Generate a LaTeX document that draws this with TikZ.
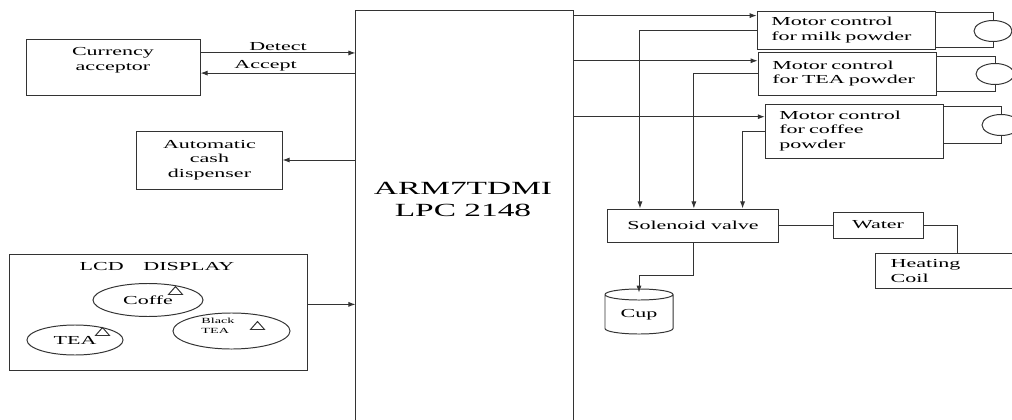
\documentclass[tikz,border=0pt]{standalone}
\usepackage{fontspec}
\setmainfont[FakeStretch=1.8]{Liberation Serif}
\usetikzlibrary{arrows.meta, positioning, shapes.geometric, calc}
\newcommand{\boxfont}{\fontsize{8.7}{10.4}\selectfont}

\begin{document}
\begin{tikzpicture}[x=0.025cm, y=-0.025cm,
  line/.style={draw=black!80, line width=0.7pt},
  arr/.style={line, -{Latex[length=5pt,width=3.6pt]}},
  box/.style={line, rectangle, inner sep=0pt, align=center, font=\boxfont},
  motorbox/.style={box, align=left, inner xsep=10pt, text width=107pt, minimum height=#1},
  oval/.style={line, ellipse, inner sep=0pt, font=\boxfont},
  motor/.style={line, ellipse, minimum width=0.95cm, minimum height=0.525cm},
  lbl/.style={font=\boxfont, inner sep=1pt},
  tri/.pic={\draw[line] (-7,4) -- (0,-4) -- (7,4) -- cycle;}]
  \useasboundingbox (0,0) rectangle (1012,420);
  \clip (0,0) rectangle (1012,420);

  % controller
  \node[box, minimum width=5.425cm, minimum height=10.725cm] (arm) at (464.5,225.5) {};
  \node[font=\fontsize{13.2}{15.6}\selectfont, align=center] (armtxt) at (463,199) {ARM7TDMI\\LPC 2148};

  % left side
  \node[box, minimum width=4.325cm, minimum height=1.375cm] (cur) at (113.5,67.5) {};
  \node[lbl, align=center] (curtxt) at (113,60) {Currency\\acceptor};
  \node[box, minimum width=3.625cm, minimum height=1.45cm] (cash) at (209.5,160) {Automatic\\cash\\dispenser};

  \coordinate (det) at ($(cur.north east)!.24!(cur.south east)$);
  \coordinate (acc) at ($(cur.north east)!.6!(cur.south east)$);
  \draw[arr] (det) -- node[lbl, above] (detlbl) {Detect} (det -| arm.west);
  \draw[arr] (acc -| arm.west) -- node[lbl, above, pos=.58] (acclbl) {Accept} (acc);
  \draw[arr] (cash.east -| arm.west) -- (cash.east);

  % display
  \node[box, minimum width=7.425cm, minimum height=2.875cm] (lcd) at (158.5,312.5) {};
  \node[lbl] (lcdtxt) at (157,267) {LCD\hspace{14pt}DISPLAY};
  \node[oval, minimum width=2.75cm, minimum height=0.825cm] (coffe) at (148,300) {Coffe};
  \node[oval, minimum width=2.4cm, minimum height=0.75cm] (tea) at (75,340) {TEA};
  \node[oval, minimum width=2.925cm, minimum height=0.9cm] (black) at (231.5,331) {};
  \node[font=\fontsize{5.6}{7}\selectfont, align=left] (blacktxt) at (218,326) {Black\\TEA};
  \pic at (175.5,290.5) {tri};
  \pic at (102.5,331.5) {tri};
  \pic at (257.5,325.5) {tri};
  \coordinate (lcdout) at ($(lcd.north east)!.43!(lcd.south east)$);
  \draw[arr] (lcdout) -- (lcdout -| arm.west);

  % motor controls
  \node[motorbox=0.95cm] (milk) at (846.5,30) {Motor control\\for milk powder};
  \node[motorbox=1.075cm] (teab) at (847.5,73.5) {Motor control\\for TEA powder};
  \node[motorbox=1.35cm] (coffb) at (854.6,131) {Motor control\\for coffee\\powder};
  \node[motor] (m1) at (993,31) {};
  \node[motor] (m2) at (995,74) {};
  \node[motor] (m3) at (1001,125) {};

  % valve, water, cup
  \node[box, minimum width=4.25cm, minimum height=0.825cm] (sol) at (693,225.5) {Solenoid valve};
  \node[box, minimum width=2.25cm, minimum height=0.65cm] (water) at (878,225) {Water};
  \node[box, minimum width=4.05cm, minimum height=0.875cm] (heat) at (957,270.5) {};
  \node[lbl, align=left, anchor=west] (heattxt) at (889,271) {Heating\\Coil};
  \node[line, cylinder, shape border rotate=90, aspect=0.3, minimum width=1.7cm,
        minimum height=1.125cm, inner sep=0pt, font=\boxfont] (cup) at (639,314.5) {Cup};

  \foreach \b/\f/\g in {milk/.13/.19, teab/.21/.505, coffb/.24/.79} {
    \coordinate (p\b) at ($(\b.north west)!\f!(\b.south west)$);
    \coordinate (s\b) at ($(sol.north west)!\g!(sol.north east)$);
    \draw[arr] (p\b -| arm.east) -- (p\b);
    \draw[arr] (\b.west) -| (s\b);
  }
  \foreach \b/\m/\t/\s in {milk/m1/.05/.95, teab/m2/.12/.9, coffb/m3/.06/.72} {
    \draw[line] ($(\b.north east)!\t!(\b.south east)$) -| (\m.north);
    \draw[line] ($(\b.north east)!\s!(\b.south east)$) -| (\m.south);
  }
  \draw[line] (sol.east) -- (sol.east -| water.west);
  \draw[line] (water.east) -| (heat.north);
  \draw[arr] (sol.south) -- ++(0,33) -| ([yshift=-3pt]cup.north);
\end{tikzpicture}
\end{document}
